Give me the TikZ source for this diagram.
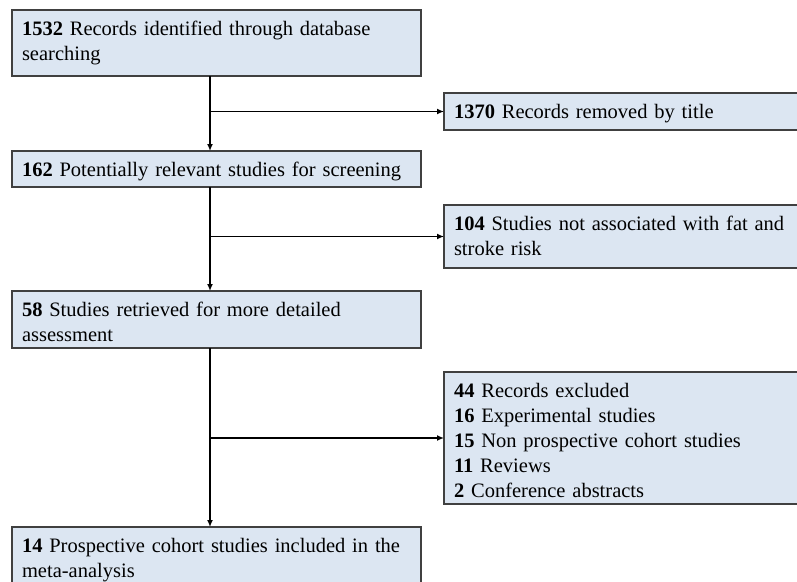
\documentclass[tikz,border=0pt]{standalone}
\usepackage{fontspec}
\setmainfont{Liberation Serif}
\usetikzlibrary{arrows.meta}
\definecolor{boxblue}{RGB}{220,230,242}
\definecolor{boxline}{RGB}{64,64,64}
\hyphenpenalty=10000
\exhyphenpenalty=10000
\begin{document}
\begin{tikzpicture}[x=1pt,y=-1pt,box/.style={shape=rectangle,draw=boxline,fill=boxblue,line width=1.3pt,anchor=north west,align=left,inner xsep=10pt,inner ysep=10pt,text height=15pt,outer sep=0pt,font=\fontsize{20.5}{25}\selectfont},boxL/.style={box,text width=389pt},boxR/.style={box,text width=341pt},flow/.style={line width=1.8pt,-{Latex[length=7pt,width=6pt]}}]
\def\xl{12};
\def\xr{444};
\def\xs{210};

\useasboundingbox (0,0) rectangle (797,581);
\clip (0,0) rectangle (797,581);

\node[boxL,text depth=31pt] (rec) at (\xl,10) {\textbf{1532} Records identified through database searching};
\node[boxL,text depth=1pt] (scr) at (\xl,151) {\textbf{162} Potentially relevant studies for screening};
\node[boxL,text depth=22pt] (ret) at (\xl,291) {\textbf{58} Studies retrieved for more detailed assessment};
\node[boxL,text depth=31pt] (inc) at (\xl,527) {\textbf{14} Prospective cohort studies included in the meta-analysis};

\node[boxR,text depth=2pt] (tit) at (\xr,93) {\textbf{1370} Records removed by title};
\node[boxR,text depth=28pt] (nfs) at (\xr,205) {\textbf{104} Studies not associated with fat and stroke risk};
\node[boxR,text depth=97pt] (exc) at (\xr,372) {\textbf{44} Records excluded\\\textbf{16} Experimental studies\\\textbf{15} Non prospective cohort studies\\\textbf{11} Reviews\\\textbf{2} Conference abstracts};

\coordinate (spine) at (\xs,0);
\draw[flow] (rec.south -| spine) -- (scr.north -| spine);
\draw[flow] (tit.west -| spine) -- (tit.west);
\draw[flow] (scr.south -| spine) -- (ret.north -| spine);
\draw[flow] (nfs.west -| spine) -- (nfs.west);
\draw[flow] (ret.south -| spine) -- (inc.north -| spine);
\draw[flow] (exc.west -| spine) -- (exc.west);
\end{tikzpicture}
\end{document}
